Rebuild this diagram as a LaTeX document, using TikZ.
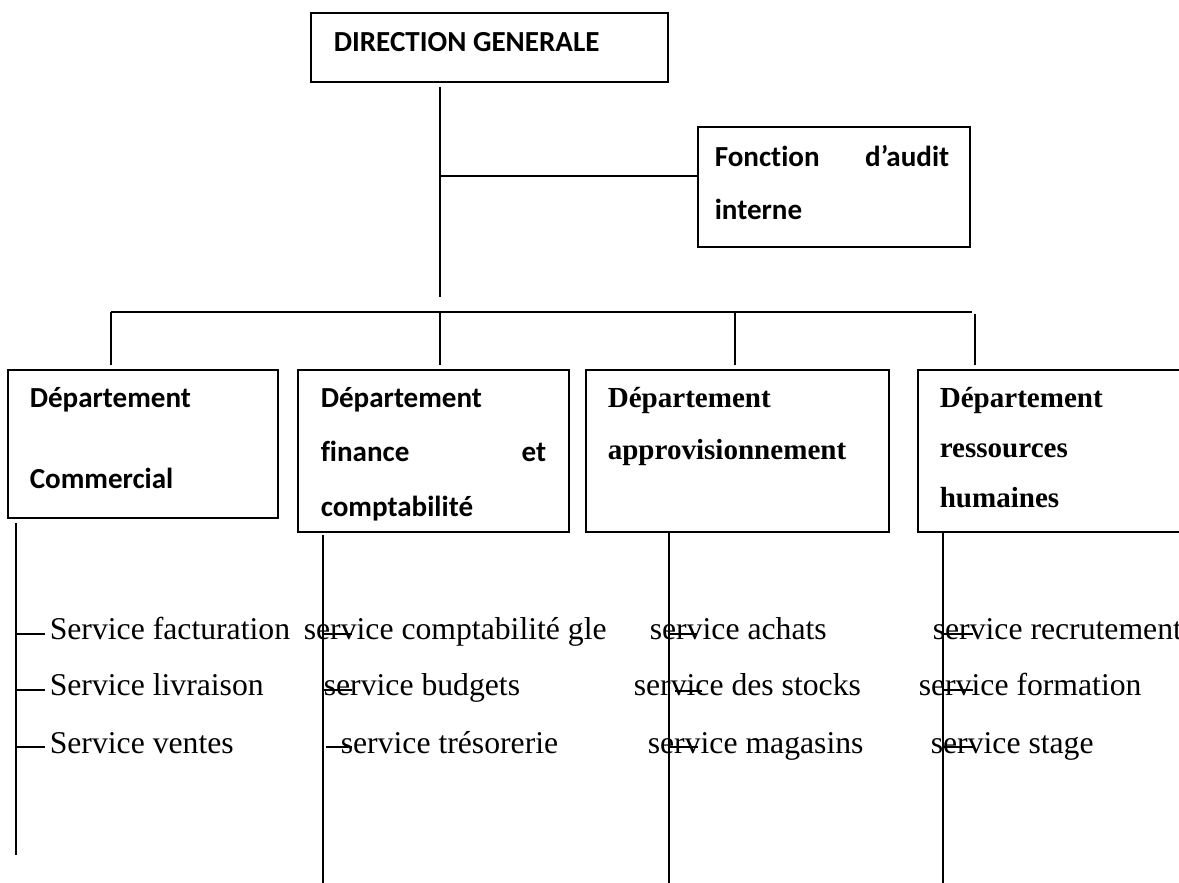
\documentclass[tikz,border=0pt]{standalone}
\usepackage{fontspec}
\setmainfont[Ligatures=NoCommon]{Liberation Serif}
\newfontfamily\calibri[Ligatures=NoCommon]{Carlito}
\usetikzlibrary{fit}

\begin{document}
\begin{tikzpicture}[x=0.3785pt, y=-0.3785pt, line width=0.6pt,
  frame/.style={draw, inner sep=0pt, line width=0.7pt},
  caltext/.style={inner sep=0pt, anchor=base west, font=\calibri\bfseries\fontsize{11}{13}\selectfont},
  calright/.style={caltext, anchor=base east},
  timbold/.style={inner sep=0pt, anchor=base west, font=\bfseries\fontsize{11}{13}\selectfont},
  svc/.style={inner sep=0pt, anchor=base west, font=\fontsize{12}{14}\selectfont},
]
\useasboundingbox (0,0) rectangle (1179,883);

% ---- boxes
\node[frame, fit={(311,13) (668,82)}] (dg) {};
\node[frame, fit={(698,127) (970,247)}] (audit) {};
\node[frame, fit={(8,370) (278,518)}] (com) {};
\node[frame, fit={(298,370) (569,532)}] (fin) {};
\node[frame, fit={(586,370) (889,532)}] (appro) {};
\node[frame, fit={(918,370) (1195,532)}] (rh) {};

% ---- box texts
\node[caltext] (tdg) at (333,52) {DIRECTION GENERALE};
\node[caltext] (ta1) at (714,167) {Fonction};
\node[calright] (ta2) at (950,167) {d’audit};
\node[caltext] (ta3) at (714,220) {interne};

\node[caltext] (tc1) at (29,408) {Département};
\node[caltext] (tc2) at (29,489) {Commercial};

\node[caltext] (tf1) at (320,408) {Département};
\node[caltext] (tf2) at (320,462) {finance};
\node[calright] (tf3) at (547,462) {et};
\node[caltext] (tf4) at (320,517) {comptabilité};

\node[timbold] (tp1) at (607,408) {Département};
\node[timbold] (tp2) at (607,460) {approvisionnement};

\node[timbold] (tr1) at (939,408) {Département};
\node[timbold] (tr2) at (939,458) {ressources};
\node[timbold] (tr3) at (939,508) {humaines};

% ---- services
\node[svc] (s11) at (49,640) {Service facturation};
\node[svc] (s12) at (49,696) {Service livraison};
\node[svc] (s13) at (49,753) {Service ventes};

\node[svc] (s21) at (303,640) {service comptabilité gle};
\node[svc] (s22) at (323,696) {service budgets};
\node[svc] (s23) at (340,753) {service trésorerie};

\node[svc] (s31) at (649,640) {service achats};
\node[svc] (s32) at (633,696) {service des stocks};
\node[svc] (s33) at (647,753) {service magasins};

\node[svc] (s41) at (932,640) {service recrutement};
\node[svc] (s42) at (918,696) {service formation};
\node[svc] (s43) at (930,753) {service stage};

% ---- spine from the direction down to the bus
\coordinate (spT) at (440,87);
\coordinate (spB) at (440,297);
\coordinate (tap) at (440,176);
\draw (spT) -- (spB);
\draw (tap) -- (tap -| audit.west);

% ---- bus and drops to the departments
\coordinate (busL) at (111,312);
\coordinate (busR) at (972,312);
\draw (busL) -- (busR);
\coordinate (d1) at (111,365);
\coordinate (d2t) at (440,312);
\coordinate (d2) at (440,365);
\coordinate (d3t) at (735,312);
\coordinate (d3) at (735,365);
\coordinate (d4t) at (975,314);
\coordinate (d4) at (975,365);
\draw (busL) -- (d1);
\draw (d2t) -- (d2);
\draw (d3t) -- (d3);
\draw (d4t) -- (d4);

% ---- service lines under each department
\coordinate (v1t) at (16,523);  \coordinate (v1b) at (16,855);
\coordinate (v2t) at (323,535); \coordinate (v2b) at (323,883);
\coordinate (v3t) at (669,533); \coordinate (v3b) at (669,883);
\coordinate (v4t) at (943,533); \coordinate (v4b) at (943,883);
\draw (v1t) -- (v1b);
\draw (v2t) -- (v2b);
\draw (v3t) -- (v3b);
\draw (v4t) -- (v4b);

% ---- short ticks toward each service
\foreach \y in {634,690,747} {
  \coordinate (k1a) at (16,\y);  \coordinate (k1b) at (45,\y);
  \draw (k1a) -- (k1b);
}
\coordinate (k2a) at (323,634); \coordinate (k2b) at (352,634); \draw (k2a) -- (k2b);
\coordinate (k2c) at (323,690); \coordinate (k2d) at (352,690); \draw (k2c) -- (k2d);
\coordinate (k2e) at (326,747); \coordinate (k2f) at (352,747); \draw (k2e) -- (k2f);

\coordinate (k3a) at (669,634); \coordinate (k3b) at (697,634); \draw (k3a) -- (k3b);
\coordinate (k3c) at (675,691); \coordinate (k3d) at (702,691); \draw (k3c) -- (k3d);
\coordinate (k3e) at (669,747); \coordinate (k3f) at (698,747); \draw (k3e) -- (k3f);

\coordinate (k4a) at (943,634); \coordinate (k4b) at (973,634); \draw (k4a) -- (k4b);
\coordinate (k4c) at (943,690); \coordinate (k4d) at (973,690); \draw (k4c) -- (k4d);
\coordinate (k4e) at (943,747); \coordinate (k4f) at (973,747); \draw (k4e) -- (k4f);
\end{tikzpicture}
\end{document}
